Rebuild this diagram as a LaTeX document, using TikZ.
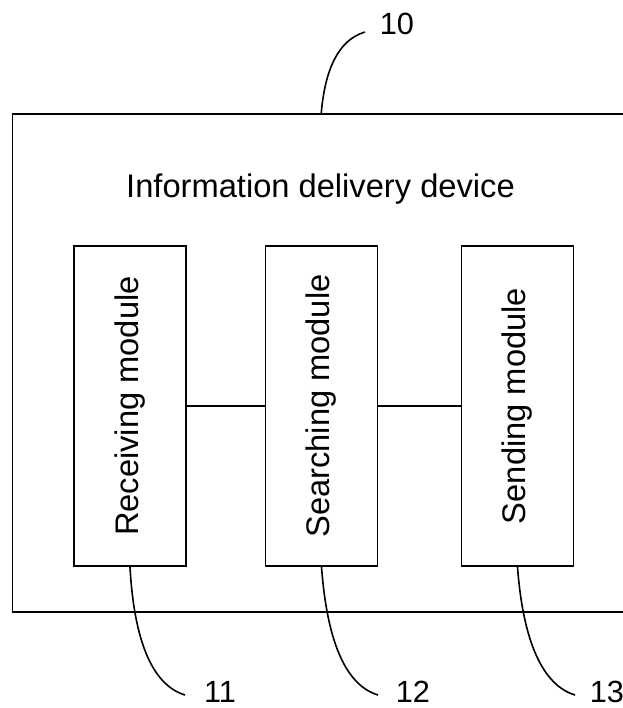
\documentclass[tikz,border=0pt]{standalone}
\usepackage{fontspec}
\setmainfont{Liberation Sans}
\usepackage{tikz}

\begin{document}
\begin{tikzpicture}[x=0.75pt, y=-0.75pt,
  box/.style={draw, line width=1.4pt, rectangle},
  module/.style={box, rotate=90, minimum width=240pt, minimum height=84pt,
    inner sep=0pt, font=\fontsize{24.5}{29}\selectfont},
  num/.style={inner sep=0pt, font=\fontsize{23}{27}\selectfont},
  leader/.style={line width=1.2pt}]
 \useasboundingbox (0,0) rectangle (623,708);
 \clip (0,0) rectangle (623,708);
 % outer device box, right side runs off the page
 \node[box, minimum width=463.1pt, minimum height=373.5pt] (dev) at (321.25,363) {};
 \node[anchor=base, inner sep=0pt, font=\fontsize{24.5}{29}\selectfont] (title) at (320.5,197) {Information delivery device};
 % the three modules
 \node[module] (recv) at (130,406) {Receiving module};
 \node[module] (search) at (321.5,406) {Searching module};
 \node[module] (send) at (517.5,406) {Sending module};
 \draw[line width=1.1pt] (recv) -- (search);
 \draw[line width=1.1pt] (search) -- (send);
 % reference numbers
 \node[num] (n10) at (397,24) {10};
 \node[num] (n11) at (220,692) {11};
 \node[num] (n12) at (413,692) {12};
 \node[num] (n13) at (607,692) {13};
 \coordinate (e10) at (365,32);
 \coordinate (e11) at (185,695);
 \coordinate (e12) at (378,695);
 \coordinate (e13) at (575,695);
 \draw[leader] (dev.north) .. controls (325,70) and (338,40) .. (e10);
 \draw[leader] (recv.west) .. controls (134,640) and (152,685) .. (e11);
 \draw[leader] (search.west) .. controls (327,640) and (345,685) .. (e12);
 \draw[leader] (send.west) .. controls (523,640) and (542,685) .. (e13);
\end{tikzpicture}
\end{document}
